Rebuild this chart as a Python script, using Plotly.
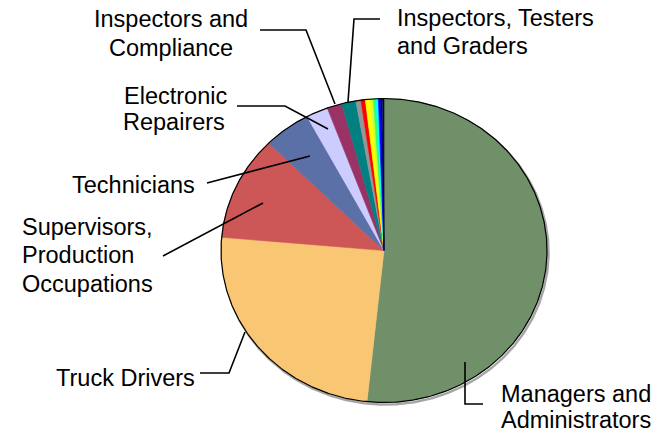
import numpy as np
import plotly.graph_objects as go

# Share of employment by occupation (percent), drawn clockwise from 12 o'clock
occupations = [
    "Managers and Administrators",
    "Truck Drivers",
    "Supervisors, Production Occupations",
    "Technicians",
    "Electronic Repairers",
    "Inspectors and Compliance",
    "Inspectors, Testers and Graders",
    "Other 1", "Other 2", "Other 3", "Other 4", "Other 5",
    "Other 6", "Other 7", "Other 8", "Other 9",
]
shares = [51.67, 24.72, 11.11, 4.67, 2.17, 1.50, 1.39,
          0.50, 0.44, 0.50, 0.28, 0.25, 0.25, 0.22, 0.19, 0.14]
colors = ["#6F9068", "#F9C673", "#CD5656", "#5A70A6", "#CCCCFF", "#993366", "#008080",
          "#969696", "#FF0000", "#FFFF00", "#CCFF33", "#33FF66", "#00FFFF", "#0000FF",
          "#000080", "#000000"]

# Label text lines, with their anchor and placement
label_lines = [
    ("Inspectors and", 170.5, 18.5, "center"),
    ("Compliance", 170.5, 47.5, "center"),
    ("Electronic", 175, 96, "center"),
    ("Repairers", 174, 122, "center"),
    ("Technicians", 133, 185, "center"),
    ("Supervisors,", 20, 226.5, "left"),
    ("Production", 20, 255, "left"),
    ("Occupations", 20, 283.5, "left"),
    ("Truck Drivers", 54, 378, "left"),
    ("Inspectors, Testers", 395, 17.5, "left"),
    ("and Graders", 395, 46, "left"),
    ("Managers and", 499, 393.5, "left"),
    ("Administrators", 499, 420, "left"),
]

# Leader lines from label to slice
leaders = [
    ([260, 306, 335], [30, 30, 104]),
    ([380, 354, 348], [19, 19, 102]),
    ([237, 285, 328], [106, 106, 129]),
    ([207, 310], [183, 156]),
    ([163, 263], [256, 203]),
    ([200, 229, 245], [373, 373, 332]),
    ([465, 465, 483], [362, 404, 404]),
]

W, H = 666, 435
CX, CY, RX, RY = 384, 250.5, 163, 152

fig = go.Figure()

# soft drop shadow under the pie
t = np.radians(np.linspace(0, 360, 721))
fig.add_trace(go.Scatter(
    x=CX + 1.5 + RX * np.sin(t), y=CY + 2 - RY * np.cos(t),
    mode="lines", line=dict(color="rgba(0,0,0,0.35)", width=2.5),
    hoverinfo="skip", showlegend=False))

total = sum(shares)
start = 0.0
for name, val, col in zip(occupations, shares, colors):
    sweep = 360.0 * val / total
    th = np.radians(np.linspace(start, start + sweep, max(3, int(sweep * 3) + 3)))
    xs = np.concatenate([[CX], CX + RX * np.sin(th), [CX]])
    ys = np.concatenate([[CY], CY - RY * np.cos(th), [CY]])
    fig.add_trace(go.Scatter(
        x=xs, y=ys, fill="toself", fillcolor=col, mode="lines",
        line=dict(color=col, width=0.6), name=name,
        hoveron="fills", showlegend=False))
    start += sweep

# pie outline
fig.add_trace(go.Scatter(
    x=CX + RX * np.sin(t), y=CY - RY * np.cos(t),
    mode="lines", line=dict(color="black", width=1.2),
    hoverinfo="skip", showlegend=False))

for lx, ly in leaders:
    fig.add_trace(go.Scatter(
        x=lx, y=ly, mode="lines", line=dict(color="black", width=1.6),
        hoverinfo="skip", showlegend=False))

for text, x, y, anchor in label_lines:
    fig.add_annotation(
        x=x, y=y, text=text, showarrow=False, xanchor=anchor, yanchor="middle",
        font=dict(family="Liberation Sans, Arial, sans-serif", size=23.5, color="black"))

fig.update_layout(
    width=W, height=H, margin=dict(l=0, r=0, t=0, b=0),
    paper_bgcolor="white", plot_bgcolor="white",
    xaxis=dict(range=[0, W], visible=False, fixedrange=True),
    yaxis=dict(range=[H, 0], visible=False, fixedrange=True),
)

fig.write_html("out.html")
